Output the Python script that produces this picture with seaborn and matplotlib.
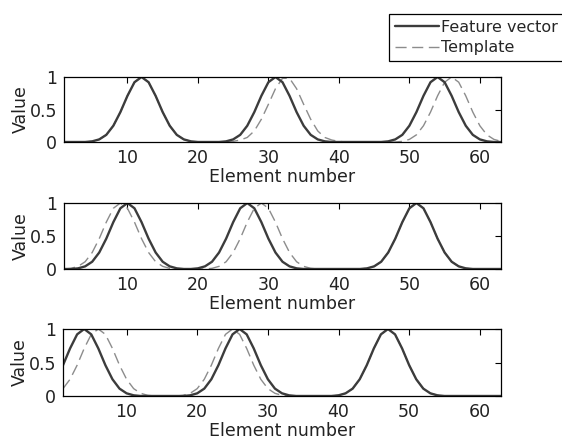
import numpy as np
import pandas as pd
import matplotlib
matplotlib.use("Agg")
import matplotlib.pyplot as plt
from matplotlib.lines import Line2D
import seaborn as sns

# Element indices shared by all three panels
elements = list(range(1, 64))

# Panel 1
feature_1 = [0, 0, 0, 0, 0.01, 0.04, 0.11, 0.25, 0.46, 0.71, 0.92, 1.00, 0.92, 0.71, 0.46, 0.25, 0.11, 0.04, 0.01,
             0, 0, 0, 0,
             0.01, 0.04, 0.11, 0.25, 0.46, 0.71, 0.92, 1.00, 0.92, 0.71, 0.46, 0.25, 0.11, 0.04, 0.01,
             0, 0, 0, 0, 0, 0, 0, 0,
             0.01, 0.04, 0.11, 0.25, 0.46, 0.71, 0.92, 1.00, 0.92, 0.71, 0.46, 0.25, 0.11, 0.04, 0.01,
             0, 0]
template_1 = [0, 0, 0, 0, 0.01, 0.04, 0.11, 0.25, 0.46, 0.71, 0.92, 1.00, 0.92, 0.71, 0.46, 0.25, 0.11, 0.04, 0.01,
              0, 0, 0, 0, 0,
              0.01, 0.03, 0.07, 0.17, 0.35, 0.58, 0.82, 0.98, 0.98, 0.82, 0.58, 0.35, 0.17, 0.07, 0.03, 0.01,
              0, 0, 0, 0, 0, 0, 0, 0,
              0.01, 0.04, 0.11, 0.25, 0.46, 0.71, 0.92, 1.00, 0.92, 0.71, 0.46, 0.25, 0.11, 0.04, 0.01]

# Panel 2
feature_2 = [0, 0,
             0.01, 0.04, 0.11, 0.25, 0.46, 0.71, 0.92, 1.00, 0.92, 0.71, 0.46, 0.25, 0.11, 0.04, 0.01,
             0, 0,
             0.01, 0.04, 0.11, 0.25, 0.46, 0.71, 0.92, 1.00, 0.92, 0.71, 0.46, 0.25, 0.11, 0.04, 0.01,
             0, 0, 0, 0, 0, 0, 0, 0, 0,
             0.01, 0.04, 0.11, 0.25, 0.46, 0.71, 0.92, 1.00, 0.92, 0.71, 0.46, 0.25, 0.11, 0.04, 0.01,
             0, 0, 0, 0, 0]
template_2 = [0,
              0.01, 0.04, 0.11, 0.25, 0.46, 0.71, 0.92, 1.00, 0.92, 0.71, 0.46, 0.25, 0.11, 0.04, 0.01,
              0, 0, 0, 0, 0,
              0.01, 0.04, 0.11, 0.25, 0.46, 0.71, 0.92, 1.00, 0.92, 0.71, 0.46, 0.25, 0.11, 0.04, 0.01,
              0, 0, 0, 0, 0, 0, 0,
              0.01, 0.04, 0.11, 0.25, 0.46, 0.71, 0.92, 1.00, 0.92, 0.71, 0.46, 0.25, 0.11, 0.04, 0.01,
              0, 0, 0, 0, 0]

# Panel 3
feature_3 = [0.46, 0.71, 0.92, 1.00, 0.92, 0.71, 0.46, 0.25, 0.11, 0.04, 0.01,
             0, 0, 0, 0, 0, 0, 0,
             0.01, 0.04, 0.11, 0.25, 0.46, 0.71, 0.92, 1.00, 0.92, 0.71, 0.46, 0.25, 0.11, 0.04, 0.01,
             0, 0, 0, 0, 0, 0,
             0.01, 0.04, 0.11, 0.25, 0.46, 0.71, 0.92, 1.00, 0.92, 0.71, 0.46, 0.25, 0.11, 0.04, 0.01,
             0, 0, 0, 0, 0, 0, 0, 0, 0]
template_3 = [0.11, 0.25, 0.46, 0.71, 0.92, 1.00, 0.92, 0.71, 0.46, 0.25, 0.11, 0.04, 0.01,
              0, 0, 0, 0,
              0.01, 0.04, 0.11, 0.25, 0.46, 0.71, 0.92, 1.00, 0.92, 0.71, 0.46, 0.25, 0.11, 0.04, 0.01,
              0, 0, 0, 0, 0, 0, 0,
              0.01, 0.04, 0.11, 0.25, 0.46, 0.71, 0.92, 1.00, 0.92, 0.71, 0.46, 0.25, 0.11, 0.04, 0.01,
              0, 0, 0, 0, 0, 0, 0, 0, 0]

x_ticks = [10, 20, 30, 40, 50, 60]
y_ticks = [0, 0.5, 1]
y_tick_labels = ["0", "0.5", "1"]
series_names = ["Feature vector", "Template"]

panels = [(feature_1, template_1), (feature_2, template_2), (feature_3, template_3)]

sns.set_theme(style="white")
plt.rcParams["font.family"] = ["DejaVu Sans"]
FS = 12.5
plt.rcParams["font.size"] = FS

W, H = 562, 440
fig = plt.figure(figsize=(W / 100, H / 100), dpi=100)
fig.patch.set_facecolor("white")

# axes boxes in pixel coordinates: (left, top, right, bottom)
boxes = [(64, 77, 501, 142), (64, 203, 501, 269), (63, 329, 501, 396)]

styles = {"Feature vector": dict(color="#3c3c3c", lw=1.7, ls="-"),
          "Template": dict(color="#8c8c8c", lw=1.0, ls=(0, (8, 4)))}

for (feat, tmpl), (l, t, r, b) in zip(panels, boxes):
    ax = fig.add_axes([l / W, 1 - b / H, (r - l) / W, (b - t) / H])
    ax.set_facecolor("white")
    df = pd.DataFrame({"Element": elements * 2,
                       "Value": feat + tmpl,
                       "Series": [series_names[0]] * len(elements) + [series_names[1]] * len(elements)})
    for name in series_names[::-1]:
        sub = df[df["Series"] == name]
        st = styles[name]
        sns.lineplot(data=sub, x="Element", y="Value", ax=ax, color=st["color"],
                     linewidth=st["lw"], linestyle=st["ls"], legend=False)
    ax.set_xlim(1, 63)
    ax.set_ylim(0, 1)
    ax.set_xticks(x_ticks)
    ax.set_yticks(y_ticks)
    ax.set_yticklabels(y_tick_labels)
    ax.tick_params(direction="in", top=True, right=True, length=4, width=0.8,
                   colors="black", labelsize=FS)
    ax.tick_params(axis="x", labelcolor="#222222", pad=5)
    ax.tick_params(axis="y", labelcolor="#222222", pad=5)
    for s in ax.spines.values():
        s.set_color("black")
        s.set_linewidth(0.9)
        s.set_visible(True)
    ax.set_xlabel("Element number", fontsize=FS, color="#222222", labelpad=1)
    ax.set_ylabel("Value", fontsize=FS, color="#222222", labelpad=0)
    ax.grid(False)

# legend handles built from the line styles
handles = [Line2D([], [], color=styles[n]["color"], lw=styles[n]["lw"], ls=styles[n]["ls"]) for n in series_names]
leg = fig.legend(handles, series_names, loc="upper left",
                 bbox_to_anchor=(389 / W, 1 - 14 / H), frameon=True, fancybox=False,
                 edgecolor="black", framealpha=1, fontsize=11.5, handlelength=2.8,
                 handletextpad=0.1, borderpad=0.35, labelspacing=0.35, borderaxespad=0)
leg.get_frame().set_linewidth(0.9)

fig.savefig("out.png", dpi=100, facecolor="white")
